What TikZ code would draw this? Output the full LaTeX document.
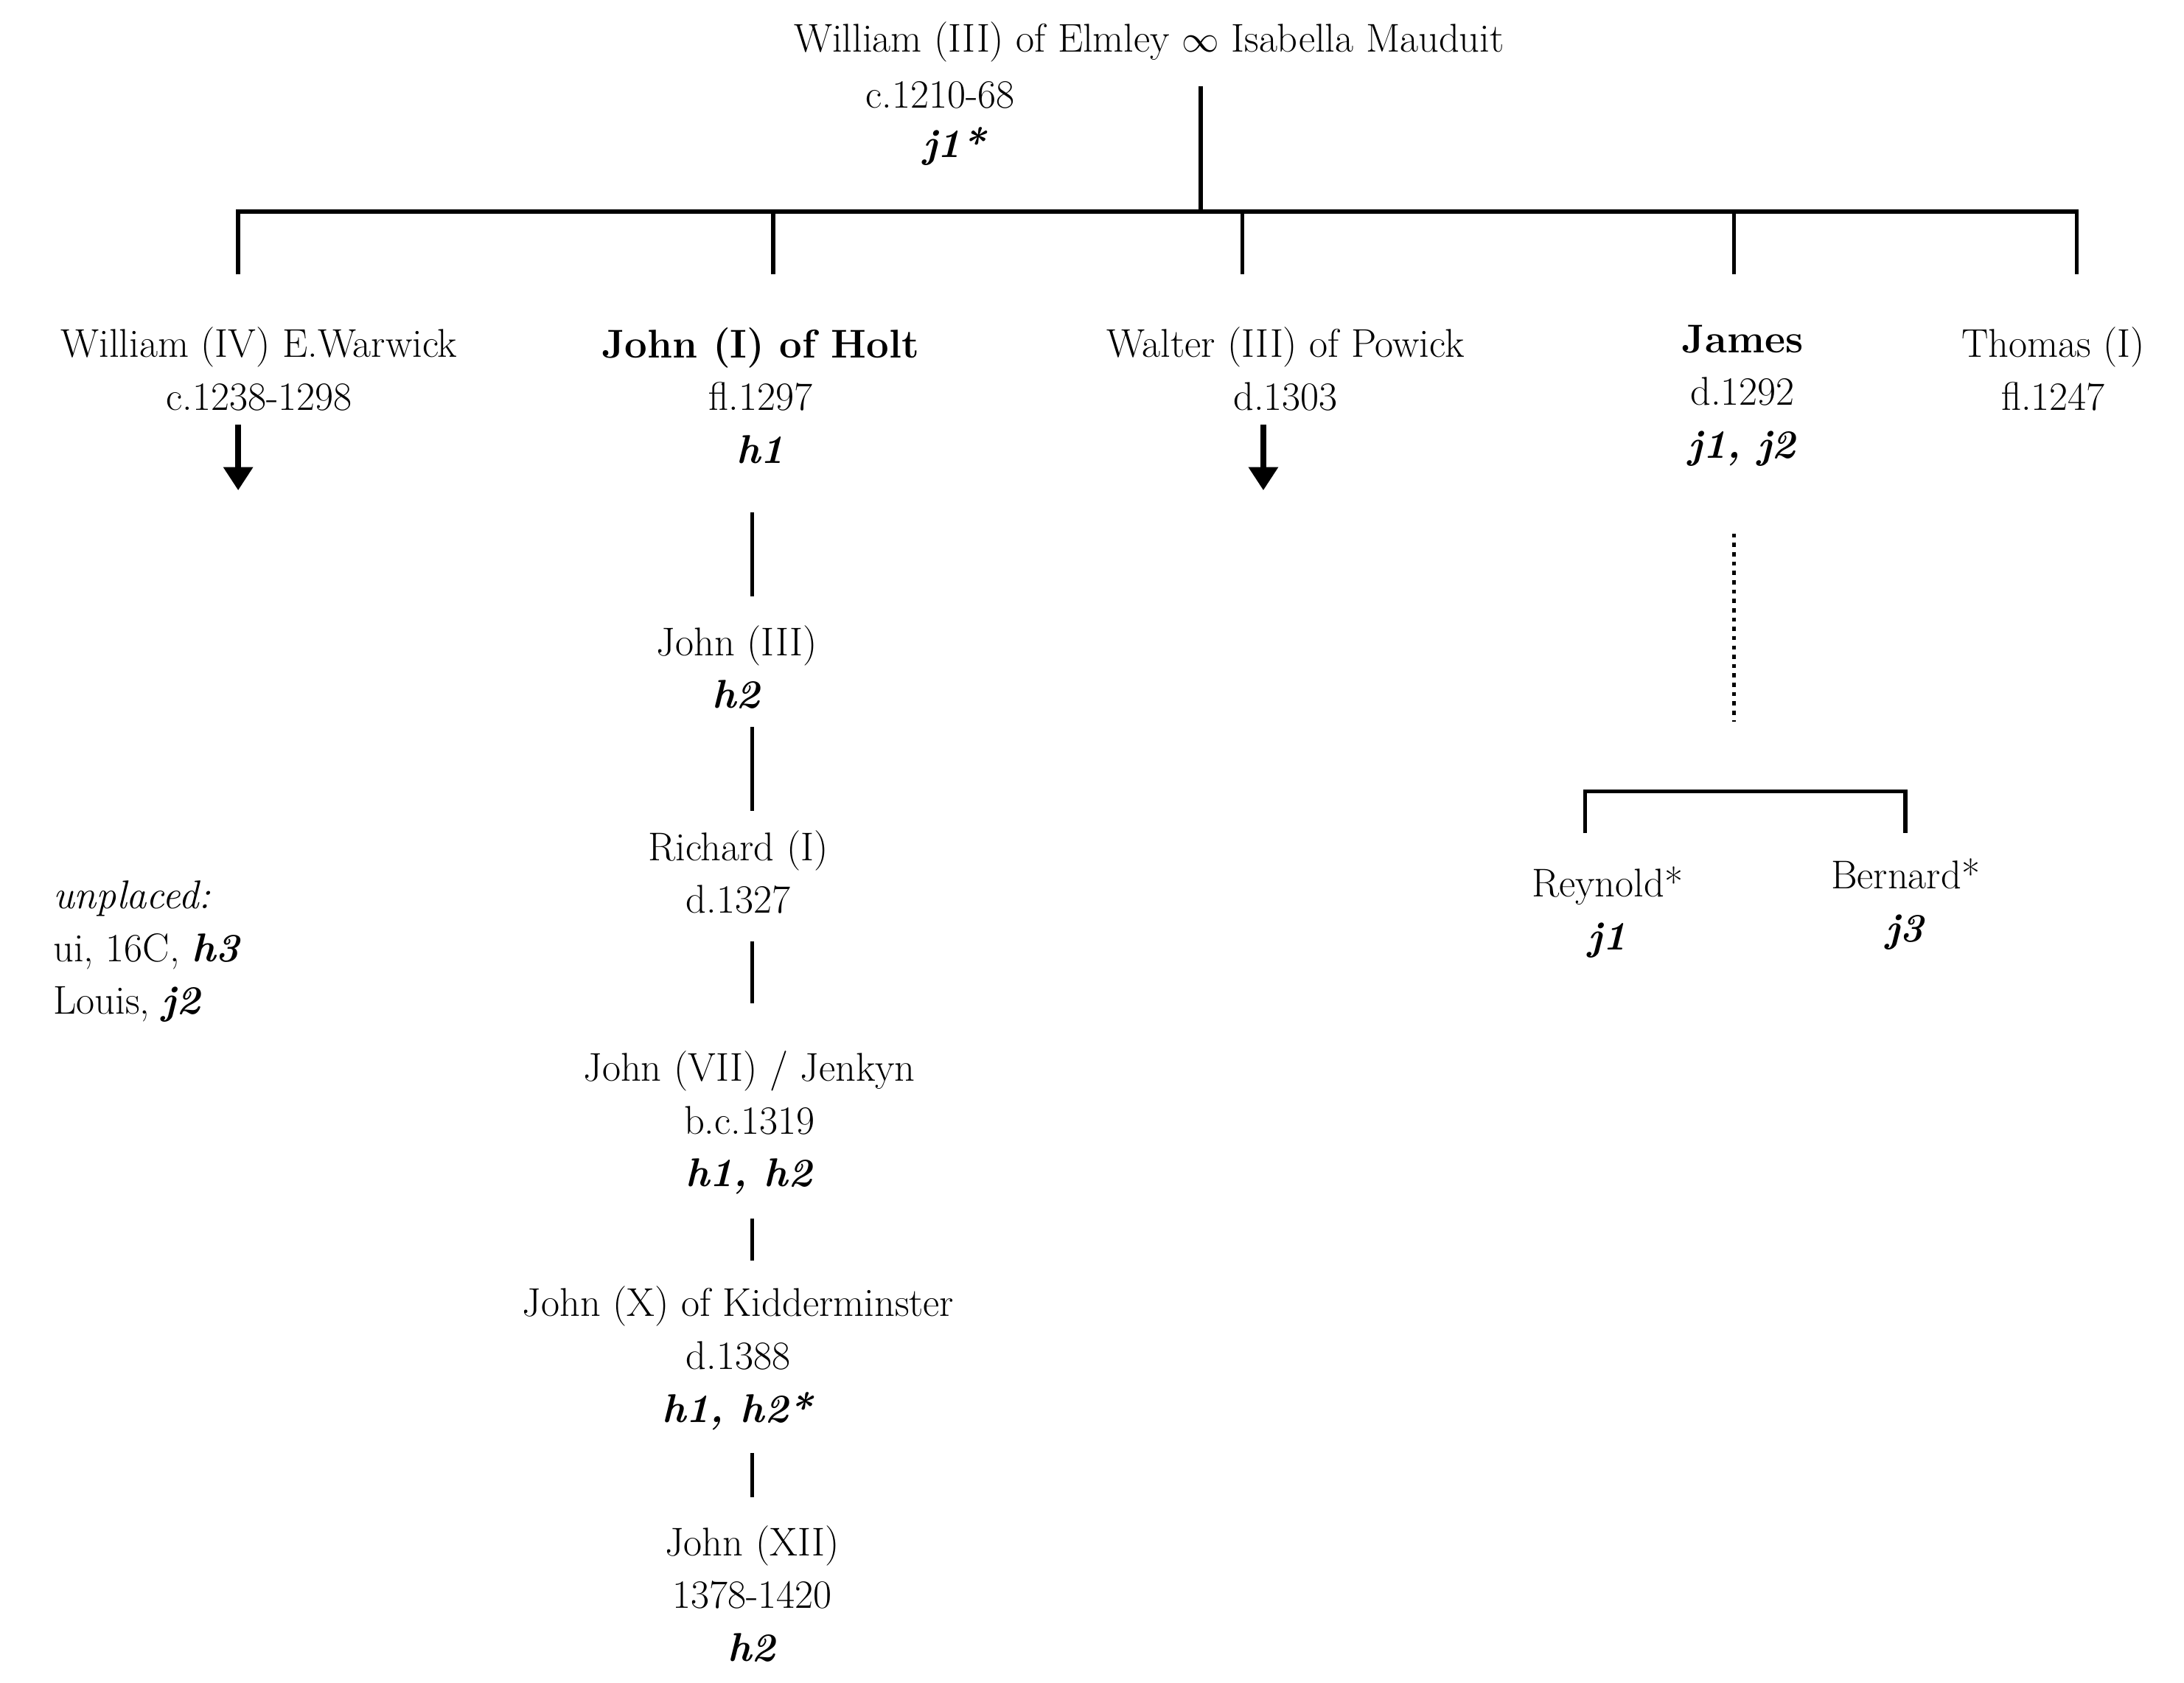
\documentclass[tikz,border=0pt]{standalone}
\usetikzlibrary{arrows.meta}
\begin{document}
\begin{tikzpicture}[x=0.0189cm,y=-0.0189cm,
  every node/.style={font=\fontsize{15.5}{20.4}\selectfont,align=center,inner sep=1pt},
  ln/.style={line width=1.6pt},
  arr/.style={line width=2.2pt,-{Triangle[width=11pt,length=9pt]}},
  bi/.style={font=\fontsize{15.5}{20.4}\selectfont\bfseries\itshape}]
\useasboundingbox (0,0) rectangle (1568,1208);
% top
\node (top) at (825,30) {William (III) of Elmley $\infty$ Isabella Mauduit};
\node (topd) at (675,68) {c.1210-68};
\node[bi] (topj) at (685,105) {j1*};
\coordinate (tb) at (862,62);
\coordinate (tj) at (862,152);
\draw[ln] (tb) -- (tj);
\draw[ln] (171,197) -- (171,152) -- (1491,152) -- (1491,197);
\draw[ln] (555,152) -- (555,197);
\draw[ln] (892,152) -- (892,197);
\draw[ln] (1245,152) -- (1245,197);
% children
\node (will) at (186,265) {William (IV) E.Warwick\\c.1238-1298};
\draw[arr] (171,305) -- (171,352);
\node (holt) at (546,284) {\textbf{John (I) of Holt}\\fl.1297\\\textbf{\textit{h1}}};
\node (walt) at (923,265) {Walter (III) of Powick\\d.1303};
\draw[arr] (907,305) -- (907,352);
\node (james) at (1251,284) {\textbf{James}\\d.1292\\\textbf{\textit{j1, j2}}};
\node (thom) at (1474,265) {Thomas (I)\\fl.1247};
% Holt line
\draw[ln] (540,368) -- (540,428);
\node (j3) at (529,479) {John (III)\\\textbf{\textit{h2}}};
\draw[ln] (540,522) -- (540,582);
\node (ric) at (530,626) {Richard (I)\\d.1327};
\draw[ln] (540,676) -- (540,720);
\node (j7) at (538,806) {John (VII) / Jenkyn\\b.c.1319\\\textbf{\textit{h1, h2}}};
\draw[ln] (540,875) -- (540,905);
\node (j10) at (530,975) {John (X) of Kidderminster\\d.1388\\\textbf{\textit{h1, h2*}}};
\draw[ln] (540,1043) -- (540,1075);
\node (j12) at (540,1144) {John (XII)\\1378-1420\\\textbf{\textit{h2}}};
% James line
\draw[line width=1.6pt,dash pattern=on 1.6pt off 2pt] (1245,383) -- (1245,518);
\draw[ln] (1138,598) -- (1138,568) -- (1368,568) -- (1368,598);
\node (rey) at (1154,655) {Reynold*\\\textbf{\textit{j1}}};
\node (ber) at (1368,649) {Bernard*\\\textbf{\textit{j3}}};
% unplaced
\node[anchor=west,align=left] (unp) at (36,683) {\textit{unplaced:}\\ui, 16C, \textbf{\textit{h3}}\\Louis, \textbf{\textit{j2}}};
\end{tikzpicture}
\end{document}
